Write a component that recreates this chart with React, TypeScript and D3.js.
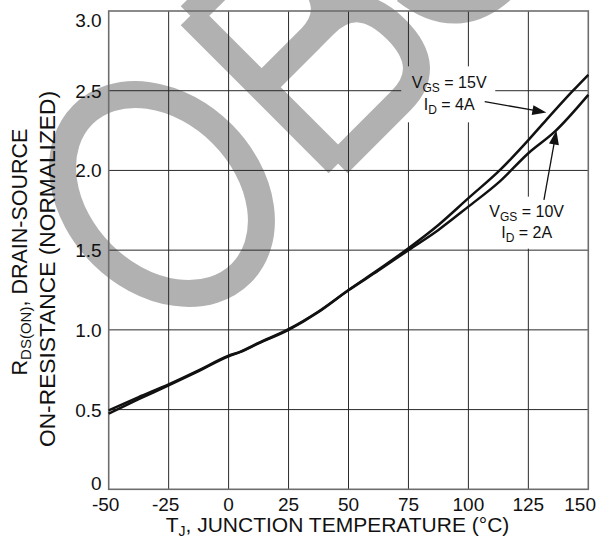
import React from "react";
import * as d3 from "d3";

const W = 599;
const H = 538;

const tempTicks = [-50, -25, 0, 25, 50, 75, 100, 125, 150];
const tempTickLabels = ["-50", "-25", "0", "25", "50", "75", "100", "125", "150"];
const rTicks = [0, 0.5, 1, 1.5, 2, 2.5, 3];
const rTickLabels = ["0", "0.5", "1.0", "1.5", "2.0", "2.5", "3.0"];

// VGS = 15V, ID = 4A
const temps15 = [-50, -37.5, -25, -12.5, 0, 5, 12.5, 25, 37.5, 50, 62.5, 75, 87.5, 100, 113, 125, 132.5, 143.6, 150];
const rds15 = [0.475, 0.565, 0.652, 0.742, 0.834, 0.862, 0.915, 1.0, 1.112, 1.25, 1.378, 1.512, 1.658, 1.826, 2.0, 2.19, 2.317, 2.5, 2.6];
// VGS = 10V, ID = 2A
const temps10 = [-50, -37.5, -25, -12.5, 0, 5, 12.5, 25, 37.5, 50, 62.5, 75, 87.5, 100, 113, 125, 136, 150];
const rds10 = [0.495, 0.578, 0.658, 0.746, 0.838, 0.864, 0.918, 1.004, 1.115, 1.248, 1.372, 1.5, 1.627, 1.773, 1.93, 2.108, 2.243, 2.474];

// annotation anchors (data coordinates)
const label15 = { t: 92, r: 2.515, vgs: "15V", id: "4A" };
const label10 = { t: 124.3, r: 1.71, vgs: "10V", id: "2A" };
const arrow15 = { t0: 106.8, r0: 2.432, t1: 132.5, r1: 2.363 };
const arrow10 = { t0: 131.5, r0: 1.815, t1: 136.7, r1: 2.25 };

const FONT = "'Liberation Sans', Arial, Helvetica, sans-serif";

export default function App() {
  const x = d3.scaleLinear().domain([-50, 150]).range([108.7, 588.3]);
  const y = d3.scaleLinear().domain([0, 3]).range([489.3, 11]);

  const line = d3
    .line<[number, number]>()
    .x((d) => x(d[0]))
    .y((d) => y(d[1]))
    .curve(d3.curveMonotoneX);

  const pts15: [number, number][] = temps15.map((t, i) => [t, rds15[i]]);
  const pts10: [number, number][] = temps10.map((t, i) => [t, rds10[i]]);

  const l15x = x(label15.t), l15y = y(label15.r);
  const l10x = x(label10.t), l10y = y(label10.r);

  const box1 = { x: l15x - 48, y: l15y - 22, w: 94, h: 56 };
  const box2 = { x: l10x - 42, y: l10y - 20, w: 85, h: 52 };

  const arrowHead = (a: { t0: number; r0: number; t1: number; r1: number }) => {
    const x0 = x(a.t0), y0 = y(a.r0), x1 = x(a.t1), y1 = y(a.r1);
    const dx = x1 - x0, dy = y1 - y0;
    const len = Math.hypot(dx, dy);
    const ux = dx / len, uy = dy / len;
    const L = 14, hw = 5;
    const bx = x1 - ux * L, by = y1 - uy * L;
    const p = `${x1},${y1} ${bx - uy * hw},${by + ux * hw} ${bx + uy * hw},${by - ux * hw}`;
    return (
      <g>
        <line x1={x0} y1={y0} x2={bx + ux * 2} y2={by + uy * 2} stroke="#111" strokeWidth={1.3} />
        <polygon points={p} fill="#111" />
      </g>
    );
  };

  const label = (cx: number, by: number, vgs: string, id: string) => (
    <g fontFamily={FONT} fontSize={16} fill="#111" textAnchor="middle">
      <text x={cx} y={by}>
        V<tspan fontSize={12} dy={4}>GS</tspan>
        <tspan dy={-4}> = {vgs}</tspan>
      </text>
      <text x={cx} y={by + 21.7}>
        I<tspan fontSize={12} dy={4}>D</tspan>
        <tspan dy={-4}> = {id}</tspan>
      </text>
    </g>
  );

  const wm = "#b1b1b1";

  return (
    <svg
      width={W}
      height={H}
      viewBox={`0 0 ${W} ${H}`}
      style={{ position: "absolute", left: 0, top: 0, background: "#fff" }}
    >
      <rect x={0} y={0} width={W} height={H} fill="#fff" />
      <defs>
        <mask id="gridMask" maskUnits="userSpaceOnUse" x={0} y={0} width={W} height={H}>
          <rect x={0} y={0} width={W} height={H} fill="#fff" />
          <rect x={box1.x} y={box1.y} width={box1.w} height={box1.h} fill="#000" />
          <rect x={box2.x} y={box2.y} width={box2.w} height={box2.h} fill="#000" />
        </mask>
      </defs>

      {/* watermark */}
      <g transform="translate(162,194) rotate(-45)" fill="none" stroke={wm} strokeWidth={27} strokeLinejoin="miter">
        <ellipse cx={0} cy={0} rx={85} ry={112} />
        <path d="M146,-106 L146,103 M146,-106 L215,-106 Q258,-106 258,-56 Q258,-5 215,-5 L146,-5 M146,-5 L235,-5 Q282,-5 282,49 Q282,103 235,103 L146,103" />
        <path
          transform="translate(0,-12)"
          d="M455,-78 C445,-100 420,-110 390,-110 C350,-110 325,-92 325,-62 C325,-30 355,-18 392,-8 C435,4 462,20 462,55 C462,90 432,108 392,108 C352,108 322,90 316,40"
        />
      </g>

      {/* grid */}
      <g mask="url(#gridMask)" stroke="#2a2a2a" strokeWidth={1}>
        {tempTicks.slice(1, -1).map((t) => (
          <line key={"vx" + t} x1={x(t)} x2={x(t)} y1={y(3)} y2={y(0)} />
        ))}
        {rTicks.slice(1, -1).map((r) => (
          <line key={"hy" + r} x1={x(-50)} x2={x(150)} y1={y(r)} y2={y(r)} />
        ))}
      </g>
      <rect
        x={x(-50)}
        y={y(3)}
        width={x(150) - x(-50)}
        height={y(0) - y(3)}
        fill="none"
        stroke="#6e6e6e"
        strokeWidth={1.6}
      />

      {/* curves */}
      <path d={line(pts15) || ""} fill="none" stroke="#111" strokeWidth={2.5} />
      <path d={line(pts10) || ""} fill="none" stroke="#111" strokeWidth={2.5} />

      {arrowHead(arrow15)}
      {arrowHead(arrow10)}
      {label(l15x, l15y, label15.vgs, label15.id)}
      {label(l10x, l10y, label10.vgs, label10.id)}

      {/* y tick labels */}
      <g fontFamily={FONT} fontSize={19} fill="#111" textAnchor="end">
        {rTicks.map((r, i) => (
          <text key={"yl" + r} x={x(-50) - 7} y={Math.min(490, Math.max(26.7, y(r) + 7))}>
            {rTickLabels[i]}
          </text>
        ))}
      </g>

      {/* x tick labels */}
      <g fontFamily={FONT} fontSize={19} fill="#111">
        {tempTicks.map((t, i) => {
          const last = i === tempTicks.length - 1;
          return (
            <text
              key={"xl" + t}
              x={last ? 596 : x(t) + (t < 0 ? -3 : 0)}
              y={510.7}
              textAnchor={last ? "end" : "middle"}
            >
              {tempTickLabels[i]}
            </text>
          );
        })}
      </g>

      {/* x title */}
      <text x={337.5} y={531.7} fontFamily={FONT} fontSize={21} fill="#111" textAnchor="middle">
        T<tspan fontSize={14} dy={4}>J</tspan>
        <tspan dy={-4}>, JUNCTION TEMPERATURE (°C)</tspan>
      </text>

      {/* y title */}
      <text
        transform="translate(26.7,252) rotate(-90)"
        fontFamily={FONT}
        fontSize={21.5}
        fill="#111"
        textAnchor="middle"
      >
        R<tspan fontSize={15} dy={4.5}>DS(ON)</tspan>
        <tspan dy={-4.5}>, DRAIN-SOURCE</tspan>
      </text>
      <text
        transform="translate(55,269) rotate(-90)"
        fontFamily={FONT}
        fontSize={21.5}
        fill="#111"
        textAnchor="middle"
        textLength={356}
        lengthAdjust="spacingAndGlyphs"
      >
        ON-RESISTANCE (NORMALIZED)
      </text>
    </svg>
  );
}
